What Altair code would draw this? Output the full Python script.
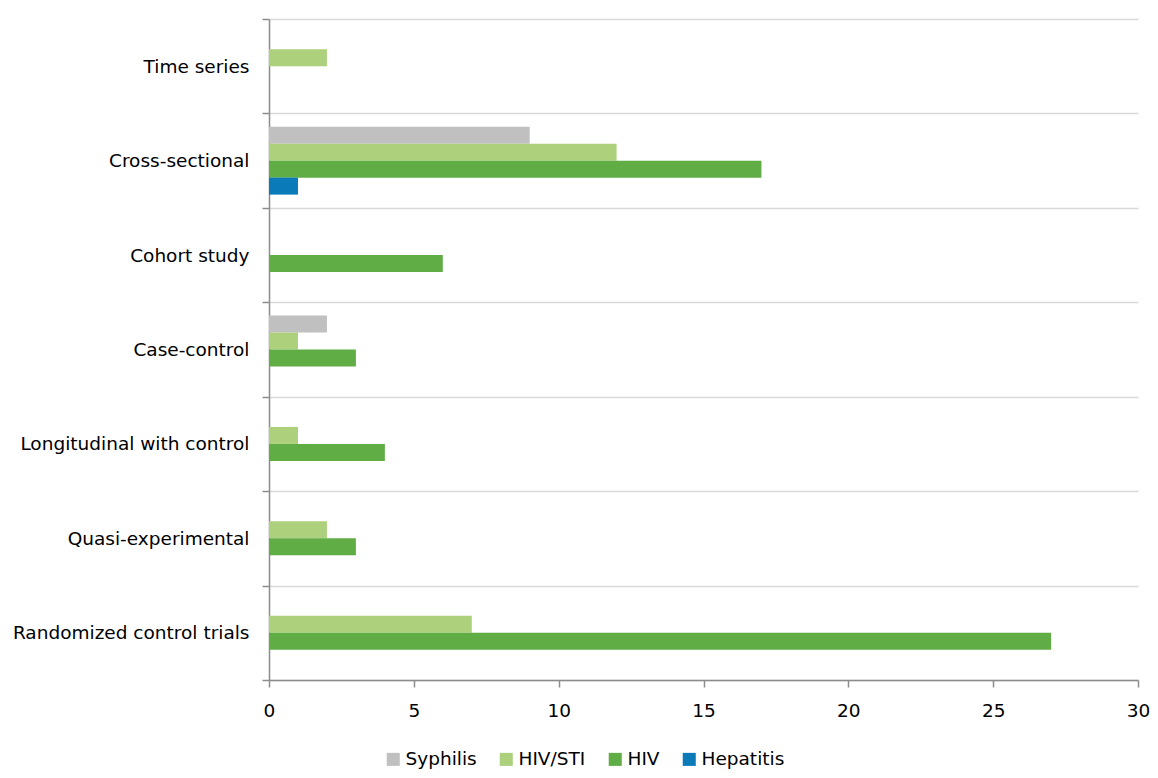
import altair as alt
import pandas as pd

categories = ["Time series", "Cross-sectional", "Cohort study", "Case-control",
              "Longitudinal with control", "Quasi-experimental", "Randomized control trials"]
series = ["Syphilis", "HIV/STI", "HIV", "Hepatitis"]
colors = ["#C0C0C0", "#ACD07C", "#60AD46", "#0A7AB8"]

syphilis = [0, 9, 0, 2, 0, 0, 0]
hiv_sti = [2, 12, 0, 1, 1, 2, 7]
hiv = [0, 17, 6, 3, 4, 3, 27]
hepatitis = [0, 1, 0, 0, 0, 0, 0]

rows = []
for s, vals in zip(series, [syphilis, hiv_sti, hiv, hepatitis]):
    for c, v in zip(categories, vals):
        if v > 0:
            rows.append({"design": c, "disease": s, "count": v})
df = pd.DataFrame(rows)

FONT = "DejaVu Sans"
FS = 18.5
AXIS_COLOR = "#8C8C8C"

chart = alt.Chart(df).mark_bar().encode(
    y=alt.Y("design:N", sort=categories,
            scale=alt.Scale(domain=categories, paddingInner=0, paddingOuter=0),
            axis=alt.Axis(title=None, tickBand="extent", grid=True, gridColor="#D9D9D9",
                          gridWidth=1.5, domainColor=AXIS_COLOR, domainWidth=1.5,
                          tickColor=AXIS_COLOR, tickWidth=1.5, tickSize=7,
                          labelPadding=13, labelFontSize=FS, labelFont=FONT,
                          labelColor="#000000", labelLimit=400)),
    yOffset=alt.YOffset("disease:N", sort=series,
                        scale=alt.Scale(domain=series, paddingOuter=0.78, paddingInner=0)),
    x=alt.X("count:Q", scale=alt.Scale(domain=[0, 30], nice=False),
            axis=alt.Axis(title=None, values=[0, 5, 10, 15, 20, 25, 30], grid=False,
                          domainColor=AXIS_COLOR, domainWidth=1.5, tickColor=AXIS_COLOR,
                          tickWidth=1.5, tickSize=7, labelPadding=14, labelFontSize=FS,
                          labelFont=FONT, labelColor="#000000", labelFlush=False)),
    color=alt.Color("disease:N", sort=series,
                    scale=alt.Scale(domain=series, range=colors),
                    legend=alt.Legend(title=None, orient="none", direction="horizontal",
                                      legendX=115, legendY=731, symbolType="square",
                                      symbolSize=170, symbolStrokeWidth=0,
                                      labelFontSize=FS, labelFont=FONT, labelColor="#000000",
                                      labelOffset=3, columnPadding=20)),
).properties(
    width=869, height=661,
    padding={"left": 261, "top": 11, "right": 12, "bottom": 90},
    autosize=alt.AutoSizeParams(type="none"),
).configure_view(stroke=None)

chart.save("out.html", embed_options={"renderer": "svg", "actions": False})
